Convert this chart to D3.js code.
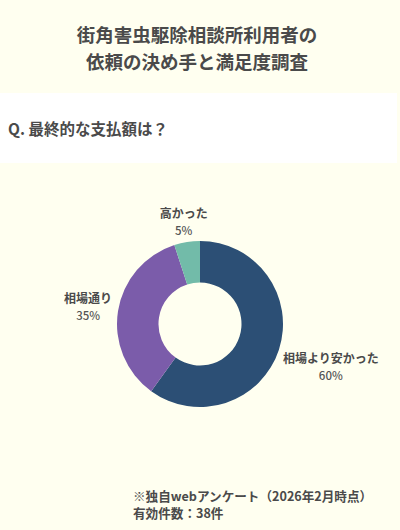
<!DOCTYPE html>
<html><head><meta charset="utf-8">
<script src="https://cdn.jsdelivr.net/npm/d3@7/dist/d3.min.js"></script>
<style>
html,body{margin:0;padding:0;background:#fffff0;}
svg{display:block;font-family:"Noto Sans CJK JP","Noto Sans",sans-serif;}
</style></head>
<body>
<svg id="c" width="400" height="530"></svg>
<script>
const titleLines = ["街角害虫駆除相談所利用者の", "依頼の決め手と満足度調査"];
const question = "Q. 最終的な支払額は？";
const categories = ["相場より安かった", "相場通り", "高かった"];
const values = [60, 35, 5];
const colors = ["#2c4f75", "#7b5caa", "#72bba9"];
const footnotes = ["※独自webアンケート（2026年2月時点）", "有効件数：38件"];

const svg = d3.select("#c");
svg.append("rect").attr("width",400).attr("height",530).attr("fill","#fffff0");

svg.selectAll("text.title").data(titleLines).join("text")
  .attr("class","title")
  .attr("x",197).attr("y",(d,i)=>41.5+i*27)
  .attr("text-anchor","middle")
  .attr("font-size",18.5).attr("font-weight",700).attr("fill","#4a4a4a")
  .text(d=>d);

svg.append("rect").attr("x",0).attr("y",93).attr("width",397).attr("height",70).attr("fill","#ffffff");
svg.append("text").attr("x",8).attr("y",134.5)
  .attr("font-size",15.5).attr("font-weight",700).attr("fill","#4a4a4a")
  .text(question);

const cx = 200, cy = 324, rOut = 83, rIn = 41.5;
const data = categories.map((c,i)=>({cat:c, val:values[i], color:colors[i]}));
const pie = d3.pie().value(d=>d.val).sort(null);
const arc = d3.arc().innerRadius(rIn).outerRadius(rOut);
const arcs = pie(data);
const g = svg.append("g").attr("transform",`translate(${cx},${cy})`);
g.selectAll("path").data(arcs).join("path")
  .attr("d",arc).attr("fill",d=>d.data.color);

const lg = g.selectAll("g.lab").data(arcs).join("g").attr("class","lab");
lg.append("text").attr("class","n").attr("text-anchor","middle")
  .attr("font-size",12).attr("font-weight",700).attr("fill","#4a4a4a")
  .attr("y",-3.5).text(d=>d.data.cat);
lg.append("text").attr("class","p").attr("text-anchor","middle")
  .attr("font-size",11.5).attr("font-weight",500).attr("fill","#555")
  .attr("y",13.5).text(d=>d.data.val+"%");
lg.each(function(d){
  const grp = d3.select(this);
  const w = Math.max(grp.select("text.n").node().getComputedTextLength(), grp.select("text.p").node().getComputedTextLength());
  const h = 30;
  const a = (d.startAngle+d.endAngle)/2;
  const dx = Math.sin(a), dy = -Math.cos(a);
  const e = Math.min(Math.abs(dx)>1e-6 ? (w/2)/Math.abs(dx) : Infinity, Math.abs(dy)>1e-6 ? (h/2)/Math.abs(dy) : Infinity);
  const r = rOut + 6 + e;
  grp.attr("transform",`translate(${dx*r},${dy*r})`);
});

svg.selectAll("text.foot").data(footnotes).join("text")
  .attr("class","foot").attr("x",133).attr("y",(d,i)=>500.5+i*17.5)
  .attr("font-size",12.6).attr("font-weight",700).attr("fill","#4a4a4a")
  .text(d=>d);
</script>
</body></html>
